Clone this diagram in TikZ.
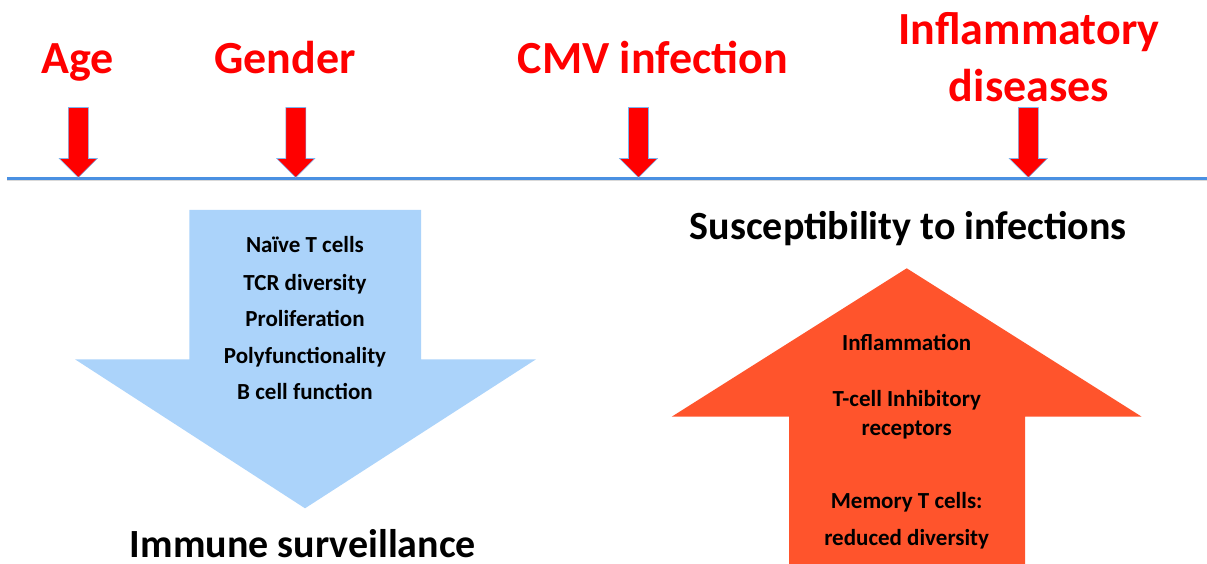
\documentclass[tikz,border=0pt]{standalone}
\usepackage{fontspec}
\setmainfont{Carlito}
\begin{document}
\begin{tikzpicture}[x=1pt,y=-1pt,
  every node/.style={inner sep=0pt,outer sep=0pt,font=\bfseries},
  factor/.style={text=factorred,font=\bfseries\fontsize{46}{56}\selectfont,anchor=base},
  heading/.style={text=black,font=\bfseries\fontsize{40}{48}\selectfont,anchor=base},
  item/.style={text=black,font=\bfseries\fontsize{23}{28}\selectfont,anchor=base},
  redarrow/.style={fill=factorred,draw=outlineblue,line width=0.6pt,line join=miter},
  blockdown/.pic={\path[redarrow] (-10,-70) -- (10,-70) -- (10,-19) -- (19,-19)
      -- (0,0) -- (-19,-19) -- (-10,-19) -- cycle;}]
\definecolor{factorred}{RGB}{255,0,0}
\definecolor{outlineblue}{RGB}{125,180,238}
\definecolor{lineblue}{RGB}{74,144,226}
\definecolor{downblue}{RGB}{171,211,250}
\definecolor{uporange}{RGB}{255,84,44}

\useasboundingbox (0,0) rectangle (1207,564);

% timeline with a soft shadow
\coordinate (tlstart) at (7.3,178.3);
\coordinate (tlend) at (1207,178.3);
\draw[black!15,line width=2pt] ([yshift=-1.8pt]tlstart) -- ([yshift=-1.8pt]tlend);
\draw[lineblue,line width=2.6pt] (tlstart) -- (tlend);

% factors acting on the timeline
\node[factor] (age) at (77.5,73.3) {Age};
\node[factor] (gender) at (285,73.3) {Gender};
\node[factor] (cmv) at (653,73.3) {CMV infection};
\node[factor] (infl) at (1029,45) {Inflammatory};
\node[factor] (infl2) at (1029,101.7) {diseases};

\coordinate (tAge) at (78.3,177.5);
\coordinate (tGender) at (295.8,177.5);
\coordinate (tCMV) at (638.5,177.5);
\coordinate (tInfl) at (1028.3,177.5);
\pic at (tAge) {blockdown};
\pic at (tGender) {blockdown};
\pic at (tCMV) {blockdown};
\pic at (tInfl) {blockdown};

% decreasing: immune surveillance
\fill[downblue] (189.3,210) -- (421,210) -- (421,359.3) -- (536,359.3)
  -- (305,508.3) -- (75,359.3) -- (189.3,359.3) -- cycle;
\node[item] (naive) at (305,252.3) {Naïve T cells};
\node[item] (tcr) at (305,290) {TCR diversity};
\node[item] (prolif) at (305,326.8) {Proliferation};
\node[item] (poly) at (305,363.5) {Polyfunctionality};
\node[item] (bcell) at (305,399) {B cell function};
\node[heading] (surv) at (303,557) {Immune surveillance};

% increasing: susceptibility to infections
\node[heading] (susc) at (908.3,239.3) {Susceptibility to infections};
\fill[uporange] (906.7,268.3) -- (1141.7,416.7) -- (1025,416.7) -- (1025,564)
  -- (789,564) -- (789,416.7) -- (671.7,416.7) -- cycle;
\node[item] (inflam) at (906.7,350) {Inflammation};
\node[item] (inhib) at (906.7,406.7) {T-cell Inhibitory};
\node[item] (recep) at (906.7,435) {receptors};
\node[item] (memory) at (906.7,508.3) {Memory T cells:};
\node[item] (reduced) at (906.7,545) {reduced diversity};
\end{tikzpicture}
\end{document}
